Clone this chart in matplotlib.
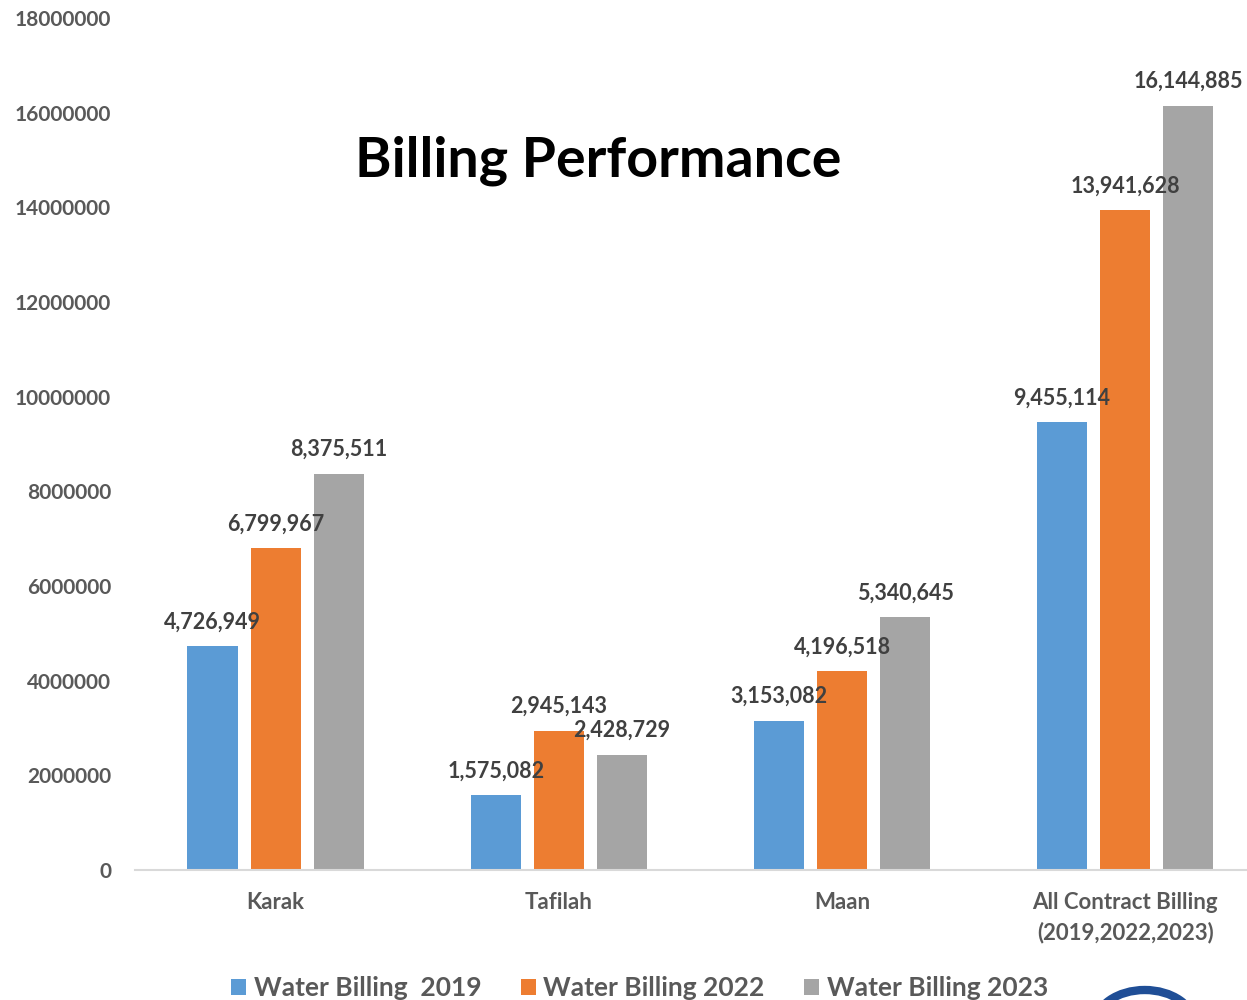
import matplotlib.pyplot as plt
import numpy as np
from matplotlib.patches import Ellipse

# data
categories = ["Karak", "Tafilah", "Maan", "All Contract Billing\n(2019,2022,2023)"]
billing_2019 = [4726949, 1575082, 3153082, 9455114]
billing_2022 = [6799967, 2945143, 4196518, 13941628]
billing_2023 = [8375511, 2428729, 5340645, 16144885]
series_names = ["Water Billing  2019", "Water Billing 2022", "Water Billing 2023"]
colors = ["#5B9BD5", "#ED7D31", "#A5A5A5"]

plt.rcParams['font.family'] = ['Lato', 'DejaVu Sans']

fig = plt.figure(figsize=(12.47, 10), dpi=100)
ax = fig.add_axes([0.108, 0.13, 0.892, 0.852])

x = np.arange(len(categories))
width = 0.177
offsets = [-0.223, 0, 0.223]
all_series = [billing_2019, billing_2022, billing_2023]

for vals, off, col, name in zip(all_series, offsets, colors, series_names):
    bars = ax.bar(x + off, vals, width, color=col, label=name)
    for b, v in zip(bars, vals):
        ax.annotate(f"{v:,}", (b.get_x() + b.get_width() / 2, v),
                    xytext=(0, 10), textcoords="offset points",
                    ha="center", va="bottom", fontsize=15.5, fontweight="bold",
                    color="#404040")

ax.set_ylim(0, 18000000)
ax.set_xlim(-0.498, 3.43)
ax.set_yticks(np.arange(0, 18000001, 2000000))
ax.set_yticklabels([str(v) for v in range(0, 18000001, 2000000)])
ax.set_xticks(x)
ax.set_xticklabels(categories, linespacing=1.45)

ax.tick_params(axis="y", length=0, pad=17, labelsize=15, labelcolor="#595959")
ax.tick_params(axis="x", length=0, pad=16, labelsize=16, labelcolor="#595959")
for lbl in ax.get_yticklabels() + ax.get_xticklabels():
    lbl.set_fontweight("bold")

for s in ["top", "right", "left"]:
    ax.spines[s].set_visible(False)
ax.spines["bottom"].set_color("#D9D9D9")
ax.spines["bottom"].set_linewidth(1.5)

fig.text(0.48, 0.839, "Billing Performance", ha="center", va="center",
         fontsize=40, fontweight="bold", color="black")

leg = fig.legend(loc="lower center", bbox_to_anchor=(0.513, -0.024), ncol=3,
                 frameon=False, handlelength=0.55, handleheight=0.55,
                 handletextpad=0.3, columnspacing=1.5,
                 prop={"weight": "bold", "size": 19})
for t in leg.get_texts():
    t.set_color("#595959")

# part of a logo at the bottom right corner
fig.add_artist(Ellipse((0.918, -0.025), 0.08, 0.07, transform=fig.transFigure,
                       facecolor="white", edgecolor="#1F4E96", linewidth=6,
                       clip_on=False))

fig.savefig("out.png", dpi=100)
